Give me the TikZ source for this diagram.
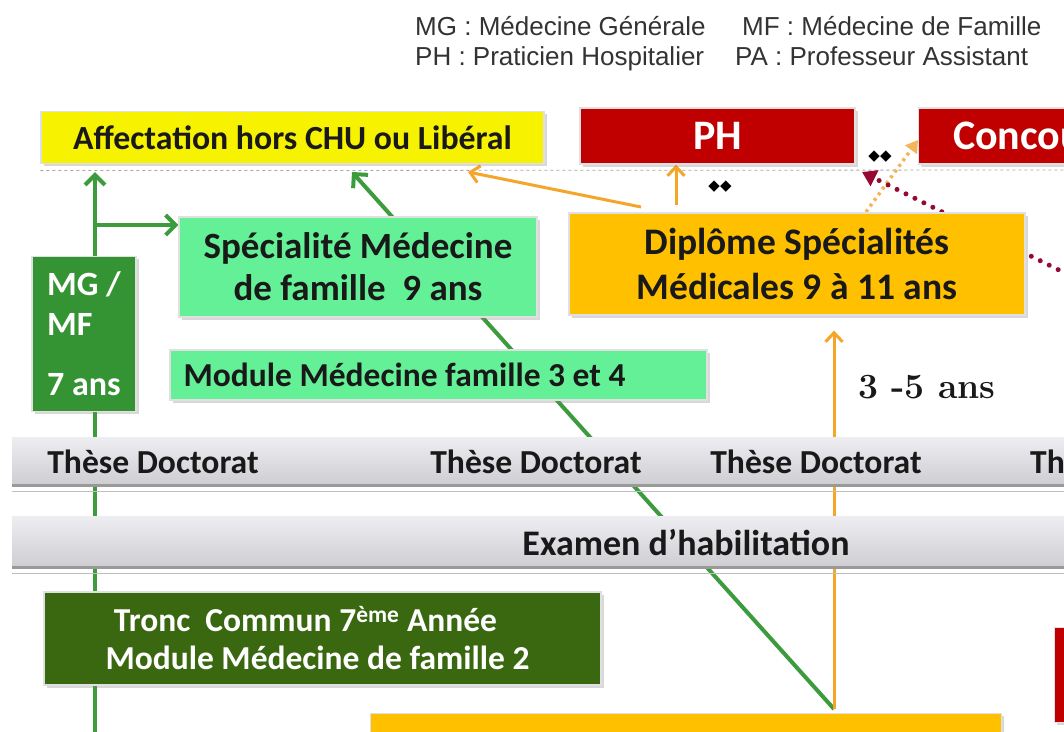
\documentclass[tikz,border=0pt]{standalone}
\usepackage{fontspec}
\newfontfamily\carl{Carlito}
\newfontfamily\lib{Liberation Sans}
\newfontfamily\djv{DejaVu Sans}
\usetikzlibrary{shadows,arrows.meta,backgrounds,calc}
\definecolor{yel}{RGB}{247,242,0}
\definecolor{dred}{RGB}{192,0,0}
\definecolor{lgrn}{RGB}{100,240,150}
\definecolor{amber}{RGB}{255,192,0}
\definecolor{mgrn}{RGB}{52,148,52}
\definecolor{dgrn}{RGB}{58,104,16}
\definecolor{lnG}{RGB}{60,155,60}
\definecolor{lnO}{RGB}{245,165,40}
\definecolor{lnOd}{RGB}{245,180,90}
\definecolor{lnR}{RGB}{150,10,50}
\definecolor{stripT}{RGB}{238,238,242}
\definecolor{stripB}{RGB}{205,205,210}
\tikzset{
  box/.style={rectangle, draw=black!12, line width=1.2pt, inner sep=0pt, text=black!90,
    drop shadow={shadow xshift=2.5pt, shadow yshift=-2.5pt, opacity=0.3},
    font=\carl\bfseries\fontsize{33.8}{40}\selectfont},
  bigred/.style={box, fill=dred, text=white, minimum height=56pt, font=\carl\bfseries\fontsize{42}{48}\selectfont},
  strip/.style={rectangle, inner sep=0pt, top color=stripT, bottom color=stripB, draw=none},
  stripedge/.style={line width=2.5pt, black!40},
  stripline/.style={line width=1pt, black!25},
  striptext/.style={inner sep=0pt, text=black!90, font=\carl\bfseries\fontsize{33.6}{38}\selectfont},
  legend/.style={anchor=base west, inner sep=0pt, text=black!80, font=\lib\fontsize{26}{30}\selectfont},
  gline/.style={line width=4pt, lnG},
  garr/.style={gline, -{Straight Barb[length=10pt,width=20pt]}},
  oline/.style={line width=3pt, lnO},
  oarr/.style={oline, -{Straight Barb[length=9pt,width=17pt]}},
  odot/.style={line width=3.5pt, lnOd, dash pattern=on 3pt off 4pt, -{Triangle[length=12pt,width=14pt]}},
  rdot/.style={line width=5pt, lnR, line cap=round, dash pattern=on 0pt off 10pt, -{Triangle[length=14pt,width=17pt]}},
  diam/.style={inner sep=0pt, font=\djv\fontsize{15}{15}\selectfont}
}
\begin{document}
\begin{tikzpicture}[x=1pt,y=-1pt]
\useasboundingbox (0,0) rectangle (1064,731);

% legend
\node[legend] (lg1) at (415,35) {MG : Médecine Générale};
\node[legend] (lg2) at (742,35) {MF : Médecine de Famille};
\node[legend] (lg3) at (415,65) {PH : Praticien Hospitalier};
\node[legend] (lg4) at (735,65) {PA : Professeur Assistant};

% top row
\node[box, fill=yel, minimum width=503pt, minimum height=52pt] (aff) at (292.5,137.5) {Affectation hors CHU ou Libéral};
\node[bigred, minimum width=275pt] (ph) at (717.5,136) {PH};
\node[bigred, anchor=west, minimum width=230pt] (conc) at (918,136) {Concours};

% second row
\node[box, fill=lgrn, minimum width=358pt, minimum height=100pt, align=center,
  font=\carl\bfseries\fontsize{37}{42}\selectfont] (spec) at (358,267) {Spécialité Médecine\\de famille\ \ 9 ans};
\node[box, fill=amber, minimum width=456pt, minimum height=102pt, align=center,
  font=\carl\bfseries\fontsize{37.5}{45}\selectfont] (dipl) at (797,264) {Diplôme Spécialités\\Médicales 9 à 11 ans};
\node[box, fill=mgrn, text=white, minimum width=104pt, minimum height=155pt, align=left,
  font=\carl\bfseries\fontsize{34}{40}\selectfont] (mg) at (84,334) {MG /\\MF\\[20pt]7 ans};
\node[box, fill=lgrn, minimum width=537pt, minimum height=50pt] (mod) at (438.5,375) {};
\node[anchor=west, inner sep=0pt, text=black!90, font=\carl\bfseries\fontsize{33.5}{40}\selectfont] (modt) at ([xshift=14pt]mod.west) {Module Médecine famille 3 et 4};

\node[anchor=base west, inner sep=0pt, font=\rmfamily\bfseries\fontsize{35.5}{40}\selectfont, text=black!90] (yrs) at (858,398) {3 -5 ans};

% strips
\node[strip, anchor=north west, minimum width=1100pt, minimum height=48pt] (these) at (12,437) {};
\draw[stripedge] (these.south west) -- (these.south east);
\draw[stripline] ([yshift=-6pt]these.south west) -- ([yshift=-6pt]these.south east);
\node[striptext] (t1) at (153,462) {Thèse Doctorat};
\node[striptext] (t2) at (536,462) {Thèse Doctorat};
\node[striptext] (t3) at (816,462) {Thèse Doctorat};
\node[striptext, anchor=west] (t4) at (1030,462) {Thèse Doctorat};

\node[strip, anchor=north west, minimum width=1100pt, minimum height=51pt] (exam) at (12,516) {};
\draw[stripedge] (exam.south west) -- (exam.south east);
\draw[stripline] ([yshift=-6pt]exam.south west) -- ([yshift=-6pt]exam.south east);
\node[striptext, font=\carl\bfseries\fontsize{36}{40}\selectfont] (examt) at (686,543) {Examen d’habilitation};

% lower boxes
\node[box, fill=dgrn, text=white, minimum width=557pt, minimum height=93pt, align=center,
  font=\carl\bfseries\fontsize{33.5}{38}\selectfont] (tronc) at (322.5,638.5) {\hspace*{-34pt}Tronc\ \ Commun 7\textsuperscript{ème} Année\\\hspace*{-10pt}Module Médecine de famille 2};
\node[box, fill=amber, anchor=north west, minimum width=631pt, minimum height=60pt] (obot) at (370,713) {};
\node[box, fill=dred, anchor=north west, minimum width=60pt, minimum height=95pt] (rbot) at (1054,627) {};

% diamonds
\node[diam] (d1) at (720,187) {◆◆};
\node[diam] (d2) at (880,157) {◆◆};

% connectors behind boxes
\coordinate (gbot) at (95,745);
\coordinate (gbr) at (95,225);
\coordinate (ostart) at (834,709);
\coordinate (gtip) at (352,172);
\coordinate (oa1) at (641,207);
\coordinate (oa1tip) at (468,172);
\coordinate (oph) at (676,205);
\coordinate (od1) at (866,212);
\coordinate (od1tip) at (918,140);
\coordinate (rd1) at (1085,283);
\coordinate (rd1tip) at (862,172);
\coordinate (dashend) at (1070,170);
\begin{pgfonlayer}{background}
\fill[white] (0,0) rectangle (1064,731);
\draw[black!35, dashed, line width=0.8pt] ([yshift=-6.5pt]aff.south west) -- (dashend);
\draw[garr, shorten >=8pt] (gbot) -- (gbot |- aff.south);
\draw[garr] (gbr) -- (gbr -| spec.west);
\draw[garr] (ostart) -- (gtip);
\draw[oarr] (ostart) -- ([yshift=-15pt]ostart |- dipl.south);
\draw[oarr] (oa1) -- (oa1tip);
\draw[oarr] (oph) -- (oph |- ph.south);
\draw[odot] (od1) -- (od1tip);
\draw[rdot] (rd1) -- (rd1tip);
\end{pgfonlayer}
\end{tikzpicture}
\end{document}
